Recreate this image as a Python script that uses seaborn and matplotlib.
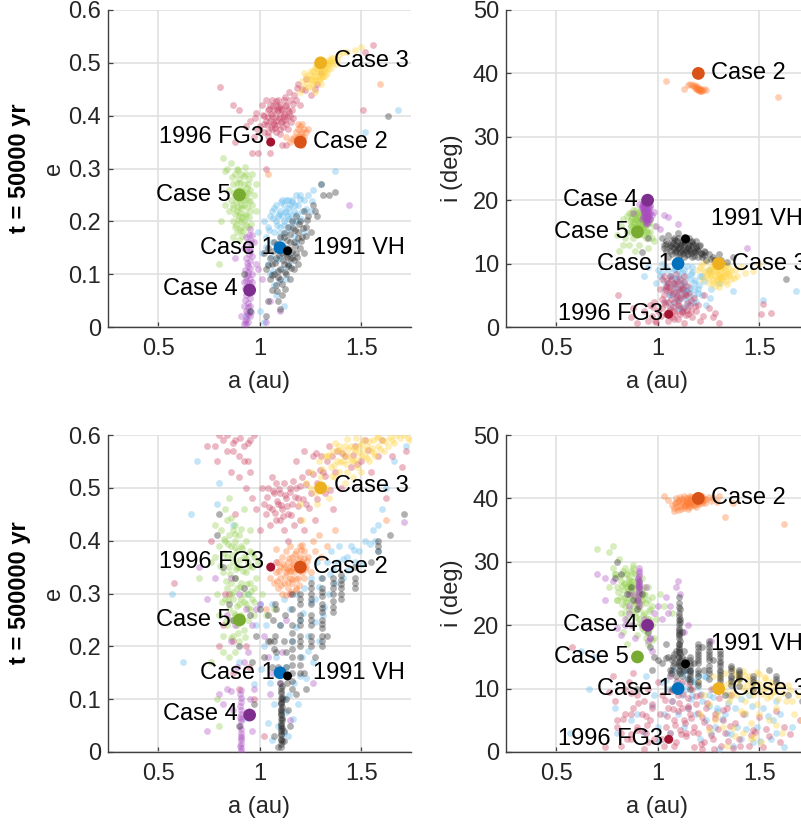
import numpy as np
import pandas as pd
import matplotlib
matplotlib.use("Agg")
import matplotlib.pyplot as plt
import seaborn as sns

# each cloud: (a [au], e, i [deg])
CASE1_T1 = [(1.02,.20,8.5),(1.03,.17,6),(1.04,.19,9.5),(1.05,.21,7),(1.06,.16,5),(1.06,.22,8),(1.07,.18,6.5),(1.08,.20,4),(1.08,.23,9),(1.09,.21,7.5),(1.09,.15,5.5),(1.10,.22,3),(1.10,.19,8),(1.11,.24,6),(1.11,.21,10),(1.12,.20,5),(1.12,.23,7),(1.13,.22,9),(1.13,.18,4.5),(1.14,.24,6.5),(1.14,.21,8),(1.15,.23,3.5),(1.15,.19,5.5),(1.16,.24,7.5),(1.17,.22,9.5),(1.18,.25,5),(1.18,.20,7),(1.19,.23,4),(1.20,.25,6),(1.21,.22,8),(1.22,.24,5),(1.24,.25,3.5),(1.26,.26,6),(1.30,.27,7),(.99,.18,7),(1.01,.14,8),(1.04,.12,4),(1.05,.10,9),(1.07,.08,5),(1.08,.06,7),(1.11,.11,3),(1.13,.09,6),(1.10,.13,9),(1.15,.14,4),(1.18,.16,6),(1.22,.18,8),(1.00,.03,9),(1.02,.01,10),(.93,.02,8.1),(.95,.03,9.5),(1.25,.22,9),(1.37,.295,5.7),(1.52,.37,4.2),(1.68,.41,5.7),(1.12,.04,6)]
CASE1_T1B = [(1.047,.183,6.4),(1.063,.207,3.3),(1.072,.226,7.7),(1.084,.194,9.2),(1.093,.214,5.1),(1.098,.178,6.8),(1.104,.237,4.2),(1.117,.193,8.6),(1.123,.217,2.7),(1.128,.241,7.1),(1.137,.204,5.6),(1.143,.226,9.7),(1.152,.212,4.8),(1.158,.237,6.2),(1.163,.198,8.3),(1.176,.231,3.9),(1.184,.214,7.4),(1.196,.243,5.3),(1.032,.152,7.2),(1.054,.132,5.2),(1.066,.106,8.1),(1.087,.127,6.1),(1.095,.088,4.4),(1.107,.166,7.8),(1.126,.146,3.1),(1.143,.117,5.7),(1.167,.173,8.7),(1.203,.205,6.6),(1.227,.223,7.3),(1.257,.238,4.6)]
CASE2_T1 = [(1.18,.37,37.9),(1.19,.36,37.7),(1.19,.375,38),(1.20,.38,37.6),(1.20,.365,37.4),(1.20,.355,37.8),(1.21,.37,37.3),(1.21,.385,37.5),(1.21,.36,37.6),(1.22,.375,37.2),(1.22,.36,37.4),(1.19,.385,37.5),(1.18,.355,38.1),(1.17,.36,38.2),(1.16,.355,38.3),(1.15,.35,38.2),(1.23,.37,37.5),(1.24,.375,37.4),(1.20,.35,37.5),(1.21,.345,37.3),(1.59,.46,36.3),(1.04,.29,38.8),(1.13,.36,37.6)]
CASE3_T1 = [(1.20,.445,9),(1.21,.465,9.5),(1.22,.455,7.5),(1.23,.475,9),(1.24,.47,8),(1.24,.455,10.3),(1.25,.485,8.5),(1.25,.47,7),(1.26,.475,9.5),(1.26,.46,8),(1.27,.49,7),(1.27,.475,9),(1.28,.465,8),(1.28,.485,6.5),(1.29,.47,7.5),(1.29,.495,9),(1.30,.48,8),(1.30,.49,10),(1.31,.475,7),(1.31,.50,8.5),(1.32,.49,9.5),(1.32,.485,7.5),(1.33,.50,8),(1.33,.48,9),(1.34,.495,6.8),(1.34,.505,8.5),(1.35,.49,8),(1.35,.51,9.3),(1.36,.50,7.5),(1.38,.505,9),(1.39,.515,8),(1.41,.52,9.5),(1.43,.52,8.5),(1.47,.525,8.8),(1.50,.53,10),(1.27,.445,10.5),(1.22,.48,10),(1.30,.46,6.3)]
CASE3_T1B = [(1.234,.462,8.6),(1.247,.479,7.7),(1.256,.468,9.1),(1.264,.484,8.3),(1.273,.466,7.4),(1.276,.496,9.7),(1.285,.476,8.8),(1.293,.483,7.2),(1.297,.469,8.4),(1.304,.497,9.2),(1.312,.484,7.9),(1.317,.493,8.1),(1.323,.476,9.4),(1.328,.502,8.7),(1.336,.488,7.3),(1.343,.499,9.8),(1.352,.503,8.3),(1.258,.455,8.9),(1.283,.491,9.6),(1.306,.473,7.6),(1.362,.509,8.9),(1.376,.498,7.8)]
CASE4_T1 = [(.92,.005,17),(.93,.015,18),(.93,.03,19.2),(.94,.01,18.5),(.94,.045,17.5),(.93,.06,18.2),(.95,.02,17),(.95,.055,18.8),(.92,.04,19),(.94,.075,16.5),(.95,.09,17.5),(.93,.095,18.7),(.96,.07,18),(.96,.10,17),(.92,.085,19.3),(.94,.115,16.8),(.95,.125,18.3),(.93,.13,17.3),(.96,.135,19),(.95,.15,18),(.94,.16,16.2),(.97,.16,17.6),(.96,.175,17),(.92,.15,18.8),(.93,.17,19),(.95,.185,16.5),(.94,.105,17.8),(.95,.04,19.4),(.98,.12,18.2),(.99,.11,16),(.91,.02,19.4),(.88,.13,18),(1.03,.01,17.7),(1.05,.05,17.4),(1.10,.03,16.3),(1.01,.09,15.5),(1.44,.23,12.4)]
CASE4_T1B = [(.925,.012,18.4),(.936,.026,17.7),(.944,.037,19.1),(.928,.052,18.9),(.937,.067,17.2),(.948,.083,18.6),(.926,.073,19.6),(.934,.088,18.1),(.943,.098,16.9),(.952,.112,18.2),(.927,.108,17.4),(.938,.122,19.2),(.946,.138,17.9),(.934,.147,18.5),(.955,.163,18.7),(.945,.174,17.1),(.932,.005,19.5),(.956,.028,17.6),(.948,.065,16.4),(.962,.085,19.2),(.942,.022,18.3),(.952,.144,17.3)]
CASE5_T1 = [(.82,.32,16),(.83,.295,17),(.84,.30,14),(.85,.26,15),(.85,.22,17.5),(.86,.31,18),(.86,.24,13),(.87,.27,16),(.87,.20,15),(.87,.17,17),(.88,.29,16.5),(.88,.25,18.5),(.88,.19,14),(.89,.30,17),(.89,.26,15.5),(.89,.22,16.5),(.89,.18,12),(.90,.28,17.8),(.90,.24,14.5),(.90,.21,16),(.90,.165,18),(.91,.29,15),(.91,.26,16.5),(.91,.225,17.5),(.91,.19,13),(.92,.27,18),(.92,.23,15.5),(.92,.20,16.8),(.93,.29,14.5),(.93,.25,17),(.93,.21,16),(.94,.27,15),(.94,.24,17.8),(.94,.19,14),(.95,.26,16.3),(.95,.22,12.5),(.96,.29,15),(.96,.23,17),(.97,.25,14),(.98,.27,16),(.98,.22,13.5),(.81,.20,12),(.83,.23,13),(.80,.12,14.5),(.87,.23,18),(.90,.26,15.8),(.91,.20,15),(.92,.25,16)]
CASE5_T1B = [(.864,.283,16.7),(.873,.253,17.4),(.876,.214,15.7),(.884,.237,16.2),(.887,.272,17.7),(.893,.203,15.3),(.896,.248,16.8),(.902,.183,17.2),(.905,.273,15.6),(.908,.231,18.1),(.913,.208,16.3),(.916,.257,14.7),(.918,.182,17.1),(.923,.286,16.2),(.926,.241,15.4),(.928,.214,17.6),(.933,.193,16.7),(.936,.264,18.2),(.938,.228,15.8),(.943,.253,16.9),(.946,.208,15.2),(.948,.281,17.3),(.953,.238,14.9),(.956,.195,16.4),(.868,.226,15.9),(.882,.193,17.9),(.893,.298,18.4),(.915,.172,15.1),(.925,.303,16.6),(.905,.215,15.5),(.895,.228,17.1),(.912,.243,16.4)]
VH_T1 = [(1.02,.14,14),(1.03,.11,13),(1.04,.15,12),(1.05,.09,14.5),(1.05,.13,11),(1.06,.07,13),(1.06,.12,12),(1.07,.16,13.8),(1.07,.10,11.5),(1.08,.13,14),(1.08,.08,12.5),(1.09,.05,12),(1.09,.15,13),(1.10,.11,11),(1.10,.17,12.5),(1.10,.09,14),(1.11,.06,13),(1.11,.14,11.8),(1.12,.12,13.5),(1.12,.17,12),(1.13,.10,11),(1.13,.15,13),(1.14,.19,12),(1.14,.12,14),(1.15,.09,12.5),(1.15,.16,11.5),(1.16,.13,13),(1.16,.20,12),(1.17,.11,11),(1.17,.16,13.5),(1.18,.14,12),(1.18,.21,11.2),(1.19,.18,12.8),(1.19,.12,13.5),(1.20,.15,11),(1.20,.20,12),(1.21,.17,13),(1.22,.22,11.5),(1.22,.14,11),(1.23,.19,12),(1.24,.21,10.5),(1.25,.18,11.5),(1.26,.23,10.8),(1.27,.22,11),(1.28,.21,10.5),(1.30,.27,11.5),(1.31,.25,10.5),(1.34,.25,10.2),(1.37,.255,11),(.92,.10,11.9),(.95,.03,14),(1.03,.02,12.5),(1.04,.05,13.5),(1.63,.40,7.5),(1.10,.035,14.8),(1.15,.13,12.5)]
VH_T1B = [(1.063,.143,12.7),(1.074,.122,13.3),(1.083,.157,11.8),(1.088,.106,12.2),(1.097,.136,13.6),(1.103,.154,12.6),(1.108,.082,11.4),(1.114,.126,12.9),(1.118,.178,13.2),(1.123,.104,11.7),(1.127,.138,14.2),(1.134,.164,12.3),(1.138,.116,13.7),(1.144,.147,11.3),(1.147,.176,12.9),(1.153,.112,14.1),(1.157,.142,12.2),(1.163,.187,13.4),(1.167,.127,11.6),(1.173,.153,12.8),(1.176,.183,13.1),(1.184,.133,11.9),(1.187,.168,12.4),(1.194,.195,12.1),(1.205,.163,12.7),(1.213,.188,11.7),(1.226,.172,11.4),(1.235,.203,11.8),(1.043,.117,13.1),(1.083,.069,13.8),(1.092,.094,12.9),(1.125,.071,12.1),(1.058,.098,12.6),(1.135,.133,13.4)]
FG3_T1 = [(.805,.454,5),(.87,.42,1.5),(.88,.35,3),(.90,.41,.7),(.93,.38,2.5),(.95,.39,1),(.96,.33,3.5),(.97,.36,1.8),(.98,.405,4),(.99,.33,.8),(1.00,.38,2.5),(1.01,.42,6),(1.02,.40,7.5),(1.02,.37,3),(1.03,.39,5),(1.03,.43,8),(1.04,.41,2),(1.04,.37,6.5),(1.05,.39,4),(1.05,.42,7),(1.06,.40,3),(1.06,.375,5.5),(1.06,.43,8),(1.07,.41,1.5),(1.07,.385,6),(1.08,.42,4),(1.08,.39,7),(1.08,.37,2.5),(1.09,.41,5),(1.09,.43,8.3),(1.10,.40,3.5),(1.10,.375,6),(1.10,.42,1.2),(1.11,.41,7.5),(1.11,.39,4.5),(1.12,.43,2.5),(1.12,.40,6),(1.13,.42,8),(1.13,.385,3),(1.14,.41,5),(1.15,.43,2),(1.15,.40,6.5),(1.16,.41,3.5),(1.17,.44,1.5),(1.18,.43,4.5),(1.19,.46,2.5),(1.20,.42,3.5),(1.21,.45,1),(1.23,.47,5),(1.25,.44,3),(1.27,.45,1.5),(1.28,.46,2.2),(1.30,.48,.6),(1.52,.52,3.6),(1.56,.534,2.2),(1.51,.41,2),(1.03,.30,4),(1.05,.33,1),(1.11,.345,2),(1.13,.345,.6)]
FG3_T1B = [(1.035,.382,3.7),(1.043,.397,5.8),(1.048,.412,7.2),(1.053,.378,2.6),(1.057,.403,6.3),(1.064,.388,4.4),(1.067,.418,7.6),(1.073,.397,3.2),(1.077,.376,5.3),(1.083,.408,6.8),(1.087,.383,2.2),(1.093,.396,4.7),(1.096,.416,7.3),(1.103,.388,5.6),(1.107,.412,3.3),(1.113,.378,6.7),(1.118,.403,2.4),(1.123,.392,4.9),(1.127,.418,7.1),(1.134,.397,5.2),(1.138,.374,1.9),(1.146,.407,3.8),(1.153,.388,5.4),(1.042,.362,6.2),(1.078,.427,1.3),(1.098,.366,4.1),(1.122,.436,6.1),(1.162,.423,4.2),(1.022,.385,4.4),(1.015,.402,1.7),(.985,.375,.9),(.975,.395,3.1),(1.142,.445,2.7),(1.185,.452,3.3),(1.222,.448,1.8),(1.166,.395,2.6)]

CASE1_T2 = [(.69,.55,15),(.62,.17,16),(.80,.51,3),(.79,.47,7),(.87,.43,5),(.90,.17,6),(.94,.30,12),(.98,.24,9),(1.00,.28,4),(1.02,.20,11),(1.03,.24,6),(1.05,.13,10),(1.06,.28,3),(1.07,.09,8),(1.08,.18,13),(1.09,.05,11),(1.10,.24,6),(1.12,.29,9),(1.12,.10,12.5),(1.13,.16,4),(1.14,.03,10),(1.15,.27,7),(1.16,.21,13),(1.17,.13,9),(1.18,.30,11),(1.19,.09,6),(1.20,.25,12),(1.21,.18,2),(1.22,.31,8),(1.23,.14,12),(1.24,.22,5),(1.25,.33,9),(1.26,.17,3),(1.27,.29,10),(1.28,.36,4),(1.29,.21,7),(1.30,.33,.5),(1.31,.26,10),(1.33,.36,6),(1.34,.30,3),(1.35,.38,9),(1.37,.32,1),(1.38,.36,7),(1.39,.39,4),(1.41,.33,2),(1.43,.37,6),(1.45,.39,9),(1.47,.36,1.5),(1.49,.38,4),(1.52,.40,7),(1.56,.42,2),(1.57,.40,5),(1.58,.38,8),(1.58,.43,3),(1.60,.46,6),(1.62,.50,.8),(1.66,.55,4),(.57,.30,3),(.66,.45,10),(1.72,.58,5)]
CASE1_T2B = [(1.04,.054,11.3),(1.062,.023,12.1),(1.092,.147,9.7),(1.118,.036,10.8),(1.127,.075,12.7),(1.146,.107,11.6),(1.163,.063,8.3),(1.178,.237,11.2),(1.196,.143,10.3),(1.215,.263,9.1),(1.238,.192,11.8),(1.254,.283,7.3),(1.272,.247,8.7),(1.293,.312,6.4),(1.318,.275,5.2),(1.345,.337,7.7),(1.362,.346,2.8),(1.408,.365,8.3),(1.437,.345,3.6),(1.465,.382,7.2),(1.505,.356,1.8),(1.543,.393,5.7),(.932,.064,3.2),(.972,.128,7.3),(1.008,.157,1.7)]
CASE2_T2 = [(1.07,.32,39),(1.08,.34,38.5),(1.09,.31,39.5),(1.09,.36,40),(1.10,.33,38.2),(1.10,.35,39.5),(1.11,.30,40.2),(1.11,.37,38.8),(1.12,.32,39.2),(1.12,.35,39.9),(1.13,.34,38.5),(1.13,.38,40.3),(1.14,.31,39),(1.14,.36,39.6),(1.15,.33,38.3),(1.15,.35,40),(1.15,.39,39.2),(1.16,.32,40.4),(1.16,.37,38.8),(1.17,.34,39.5),(1.17,.36,40.1),(1.18,.31,39),(1.18,.38,39.7),(1.19,.35,38.6),(1.19,.33,40.2),(1.20,.37,39.3),(1.20,.39,40.5),(1.21,.34,39.8),(1.21,.36,40),(1.22,.33,39.2),(1.22,.38,40.4),(1.23,.35,39.7),(1.24,.37,39.9),(1.25,.34,40.2),(1.26,.40,39.6),(1.27,.38,40),(1.29,.41,39.5),(1.30,.37,40.3),(1.33,.39,37),(1.37,.42,39.2),(1.03,.27,40.3),(1.62,.44,36),(1.08,.385,38),(1.05,.33,39.8)]
CASE2_T2B = [(1.083,.323,39.3),(1.097,.342,38.7),(1.104,.317,39.8),(1.116,.356,38.4),(1.124,.333,39.6),(1.135,.347,38.9),(1.138,.322,40.1),(1.146,.368,39.4),(1.152,.342,38.6),(1.158,.327,39.8),(1.164,.356,40.2),(1.172,.374,39.2),(1.177,.328,38.9),(1.184,.352,39.7),(1.188,.366,40.4),(1.193,.317,39.4),(1.198,.342,39.9),(1.204,.382,39.1),(1.208,.353,40.3),(1.217,.368,39.6),(1.224,.346,40.1),(1.234,.362,39.3),(1.128,.297,38.8),(1.152,.303,39.1),(1.178,.306,40),(1.206,.392,39.7),(1.165,.348,39.2),(1.142,.343,39.5)]
CASE3_T2 = [(1.20,.47,11),(1.23,.51,9),(1.25,.53,7.5),(1.27,.49,12),(1.29,.55,6),(1.30,.52,10),(1.32,.56,4),(1.33,.50,12.5),(1.35,.54,8),(1.36,.57,11),(1.37,.52,13),(1.38,.55,2.5),(1.39,.53,9),(1.40,.57,11.5),(1.41,.55,6.5),(1.42,.58,12.8),(1.43,.53,8),(1.44,.56,10.5),(1.45,.58,12),(1.46,.55,4.5),(1.47,.57,9),(1.48,.54,11),(1.49,.58,7.5),(1.50,.56,12.3),(1.51,.59,1.5),(1.52,.56,10),(1.53,.58,11.5),(1.54,.55,8.5),(1.55,.57,5),(1.56,.59,11),(1.57,.56,9.5),(1.58,.58,7),(1.60,.59,10.5),(1.61,.57,3),(1.63,.58,8),(1.65,.59,9.8),(1.67,.60,6),(1.69,.595,9),(1.71,.60,5),(1.73,.595,7.5),(1.74,.59,8.5),(1.28,.47,5),(1.34,.48,1),(1.42,.51,3),(1.46,.52,2),(1.50,.53,6),(1.33,.56,9.5),(1.39,.58,12),(1.25,.50,3.5),(1.21,.44,6)]
CASE3_T2B = [(1.343,.563,10.7),(1.367,.543,9.3),(1.384,.572,12.2),(1.396,.548,11.1),(1.413,.562,10.2),(1.425,.545,12.1),(1.437,.574,9.7),(1.448,.553,11.3),(1.463,.576,10.4),(1.475,.553,9.4),(1.487,.567,12.6),(1.497,.583,10.8),(1.513,.572,9.1),(1.526,.557,11.9),(1.538,.588,10.1),(1.552,.576,8.9),(1.564,.566,10.6),(1.578,.594,9.6),(1.593,.574,8.4),(1.615,.588,9.3),(1.642,.596,10.6),(1.662,.585,8.1),(1.305,.535,11.8),(1.356,.523,8.7),(1.373,.585,3.8),(1.432,.593,6.1),(1.476,.595,2.4),(1.584,.598,4.2)]
CASE4_T2 = [(.91,.002,25.9),(.91,.008,28.5),(.91,.015,26.4),(.91,.022,29),(.91,.03,27),(.91,.036,25.5),(.91,.044,27.8),(.905,.05,26.2),(.91,.058,28.2),(.905,.066,24.5),(.91,.072,26.8),(.91,.08,25),(.905,.088,27.5),(.91,.095,23.5),(.91,.102,26),(.905,.11,24),(.91,.118,25.2),(.91,.026,26.5),(.905,.012,27.3),(.91,.062,23),(.86,.115,22),(.84,.12,21),(.82,.09,18.5),(.87,.08,20),(.80,.11,19.5),(.74,.04,24),(.96,.04,18),(.95,.10,17.5),(.97,.12,16),(.98,.27,22),(.86,.21,23),(.88,.24,25),(.92,.17,20),(.94,.19,26),(.96,.24,18),(.84,.26,20),(.90,.30,24),(.78,.33,27),(.93,.27,21),(.89,.16,18),(.86,.33,25),(.70,.35,28),(.74,.29,27.5),(1.09,.15,26),(1.10,.13,27),(1.11,.19,25),(1.00,.28,23),(1.04,.18,24.5),(1.15,.06,20),(1.13,.25,19),(1.26,.13,17.5),(1.71,.435,18),(1.02,.22,21),(1.05,.11,22),(1.06,.15,23)]
CASE5_T2 = [(.78,.43,29),(.76,.36,31.5),(.79,.30,28),(.80,.39,24),(.80,.26,26),(.81,.42,30.5),(.82,.34,27),(.82,.22,24.5),(.82,.19,22),(.83,.40,28.5),(.83,.29,25.5),(.84,.37,26.5),(.84,.31,29),(.84,.24,23),(.85,.41,24),(.85,.35,28),(.85,.27,26),(.85,.18,21),(.86,.39,25.5),(.86,.32,27.5),(.86,.25,22.5),(.87,.42,27),(.87,.36,24),(.87,.29,28.5),(.87,.22,25.5),(.88,.40,26),(.88,.33,23),(.88,.26,27),(.88,.19,20),(.89,.38,25),(.89,.31,28),(.89,.24,22),(.90,.41,23.5),(.90,.35,26.5),(.90,.28,24),(.90,.21,18.5),(.91,.39,21),(.91,.32,25),(.91,.26,22.5),(.92,.37,27.5),(.92,.30,24),(.92,.23,19.5),(.93,.40,22),(.93,.34,25),(.93,.28,26),(.94,.36,20),(.94,.30,23.5),(.94,.25,18),(.95,.38,24),(.95,.32,21),(.95,.27,17),(.96,.35,22.5),(.96,.29,19.5),(.97,.37,24.5),(.97,.31,20),(.97,.26,23),(.98,.33,18),(.99,.36,21),(1.01,.30,25),(.83,.46,19),(.85,.48,17),(.79,.10,28),(.80,.05,24),(.76,.17,26),(.78,.37,32.5),(.70,.33,32),(.84,.44,22),(.88,.43,29.5),(.92,.46,24),(.95,.42,26),(1.03,.26,23),(1.07,.27,22),(.86,.30,26.5),(.89,.35,23.5),(.91,.29,27)]
CASE5_T2B = [(.806,.352,25.3),(.813,.283,27.8),(.826,.377,26.2),(.833,.324,24.3),(.836,.248,26.7),(.843,.393,28.1),(.846,.287,23.7),(.853,.336,25.4),(.857,.215,27.2),(.864,.373,24.7),(.868,.303,26.3),(.873,.264,22.1),(.876,.388,28.2),(.884,.346,24.6),(.887,.276,25.9),(.893,.226,21.3),(.897,.363,26.9),(.903,.312,22.8),(.906,.253,24.4),(.913,.386,20.3),(.917,.342,23.4),(.923,.283,25.7),(.927,.217,21.6),(.933,.367,19.3),(.937,.318,24.8),(.943,.272,21.2),(.948,.352,18.7),(.955,.304,22.3),(.963,.376,20.8),(.972,.283,17.6),(.822,.403,23.3),(.856,.443,26.2),(.878,.413,29.1),(.908,.423,25.6)]
VH_T2 = [(1.105,.015,24.5),(1.105,.025,22),(1.105,.035,23.5),(1.11,.045,21),(1.105,.055,19.5),(1.11,.065,22.5),(1.105,.075,18),(1.11,.085,20.5),(1.105,.095,17),(1.11,.105,15.5),(1.105,.115,16.5),(1.11,.125,13.5),(1.105,.04,19),(1.11,.02,17.5),(1.11,.06,14.5),(1.105,.08,21.5),(1.11,.10,12.5),(1.10,.13,15),(1.08,.19,14),(1.07,.21,13),(1.065,.25,12.5),(1.075,.28,15),(1.10,.24,14),(1.13,.10,16),(1.13,.16,13),(1.12,.21,15),(1.16,.12,15),(1.16,.15,14),(1.16,.18,13),(1.16,.21,12),(1.16,.24,11),(1.16,.27,10),(1.16,.30,12.5),(1.20,.15,17),(1.20,.18,16),(1.20,.20,15),(1.20,.22,14),(1.20,.24,13),(1.20,.26,12),(1.20,.28,11),(1.20,.30,10.5),(1.25,.20,17.5),(1.25,.22,16.5),(1.25,.24,15.5),(1.25,.26,14.5),(1.25,.28,13.5),(1.25,.30,12.5),(1.25,.32,11.5),(1.305,.20,16),(1.305,.22,15),(1.305,.235,14.3),(1.305,.25,13.6),(1.305,.265,13),(1.305,.28,12.2),(1.305,.295,11.6),(1.305,.31,10.6),(1.305,.33,9.8),(1.36,.265,13.5),(1.36,.285,12.8),(1.36,.30,12),(1.36,.32,11.2),(1.36,.33,10.5),(1.40,.29,13),(1.40,.31,12.3),(1.40,.325,11.5),(1.40,.335,10.4),(1.47,.31,12),(1.47,.33,11),(1.47,.35,10),(1.58,.38,12),(1.58,.40,11),(1.64,.41,9),(1.71,.45,8),(.82,.35,28),(.79,.41,27.5),(.80,.45,30),(.85,.28,25),(.87,.25,26),(.88,.33,24),(.90,.20,22.5),(.92,.31,25),(.95,.26,19),(.96,.17,16.5),(.98,.22,15),(1.00,.27,14.5),(1.02,.18,14),(1.04,.26,17),(1.05,.21,15),(1.06,.16,13),(1.07,.03,10),(1.14,.08,13),(1.15,.05,11.5),(1.09,.01,16),(1.12,.04,12),(1.12,.02,19),(1.23,.12,13),(1.22,.15,16.5),(1.18,.11,14),(1.27,.18,14.5),(1.33,.22,9),(1.55,.36,13),(.97,.09,13),(.90,.05,10)]
VH_T2B = [(1.107,.01,20.2),(1.107,.022,16.2),(1.107,.032,18.4),(1.107,.043,15),(1.107,.052,17.1),(1.107,.062,19.2),(1.107,.072,13.8),(1.107,.082,16),(1.107,.092,14.2),(1.107,.102,18.6),(1.107,.112,13),(1.107,.122,15.8),(1.107,.05,22.8),(1.107,.07,20.8),(1.107,.09,12.8),(1.16,.135,13.5),(1.16,.165,12.7),(1.16,.195,11.5),(1.16,.225,14.5),(1.20,.165,15.5),(1.20,.21,14.5),(1.20,.25,12.5),(1.20,.29,16.5),(1.25,.21,17),(1.25,.25,15),(1.25,.29,13),(1.25,.31,16),(1.305,.21,15.5),(1.305,.242,14),(1.305,.272,12.6),(1.305,.302,11.2),(1.36,.275,13.2),(1.36,.31,11.6),(1.40,.30,12.6),(1.40,.318,11.9),(1.47,.32,11.5),(1.58,.39,11.5),(1.07,.195,14.5),(1.075,.22,13.5),(1.08,.27,15.5),(1.135,.13,14.5),(1.13,.19,14),(1.125,.26,13.5),(1.09,.16,12),(1.04,.21,14.8)]
FG3_T2 = [(.78,.58,12),(.80,.60,5),(.79,.55,8),(.82,.59,3),(.84,.57,10),(.84,.60,6),(.86,.53,11),(.87,.57,2),(.88,.59,7),(.90,.56,9),(.90,.52,4),(.92,.58,6),(.93,.50,8),(.94,.55,3),(.95,.59,1.5),(.95,.53,10),(.96,.48,5),(.97,.60,7.5),(.98,.46,2),(1.00,.42,11),(1.01,.50,6),(1.02,.47,9),(1.03,.45,1),(1.04,.50,4),(1.05,.43,7),(1.06,.52,12),(1.06,.46,3),(1.07,.49,8),(1.08,.44,5),(1.08,.51,10),(1.09,.47,1.5),(1.10,.49,6.5),(1.10,.44,9),(1.11,.46,3.5),(1.12,.51,11),(1.12,.42,7),(1.13,.48,5),(1.14,.45,2.5),(1.15,.50,8.5),(1.16,.47,6),(1.17,.43,10),(1.18,.50,.8),(1.18,.55,4),(1.19,.48,7.5),(1.20,.44,3),(1.21,.52,9),(1.22,.57,5.5),(1.23,.47,1.5),(1.24,.53,7),(1.25,.49,4),(1.26,.56,10),(1.27,.44,2),(1.28,.51,6),(1.30,.56,8.5),(1.31,.53,1),(1.32,.49,5),(1.33,.55,3),(1.34,.58,7),(1.36,.46,9),(1.37,.53,.7),(1.38,.57,4.5),(1.40,.50,2),(1.42,.56,6),(1.45,.54,1),(1.47,.58,3.5),(1.50,.55,5.5),(1.52,.59,.8),(1.55,.53,2.5),(1.58,.56,6.5),(1.60,.59,1.5),(1.62,.48,4),(1.65,.56,2.8),(1.70,.54,5),(1.72,.57,1),(.58,.32,16.5),(.76,.40,9.5),(.80,.20,4),(.82,.24,1),(.85,.30,2),(.87,.15,6),(.90,.12,3.5),(.93,.20,.5),(.97,.10,7),(1.02,.03,2),(.74,.58,.8),(1.14,.40,3),(1.08,.36,1),(1.22,.42,.4),(1.15,.30,7),(.88,.45,12.5)]
FG3_T2B = [(1.034,.483,8.2),(1.047,.463,5.6),(1.063,.494,9.7),(1.074,.453,6.8),(1.083,.476,4.2),(1.094,.497,11.2),(1.104,.467,7.7),(1.116,.447,2.8),(1.124,.487,9.2),(1.136,.465,4.6),(1.148,.493,7.2),(1.156,.448,10.7),(1.163,.513,5.3),(1.174,.482,3.2),(1.186,.466,8.8),(1.198,.503,6.2),(1.212,.478,1.2),(1.228,.508,4.7),(1.243,.462,7.7),(1.262,.527,2.7),(1.283,.478,5.3),(1.297,.534,3.7),(1.323,.523,6.7),(1.346,.495,1.7),(.903,.595,7.8),(.923,.55,3.3),(.866,.585,9.3),(.942,.585,5.7),(.83,.30,5.2),(.867,.21,2.8),(.946,.16,4.3),(1.405,.565,.9),(1.458,.562,2.7),(1.535,.572,3.6),(1.275,.565,.5),(1.355,.56,4.1),(1.478,.545,3.1)]

CLOUD_TABLE = [
    ("Case 1", "#5CB8EC", CASE1_T1 + CASE1_T1B, CASE1_T2 + CASE1_T2B),
    ("1996 FG3", "#C93A5E", FG3_T1 + FG3_T1B, FG3_T2 + FG3_T2B),
    ("Case 2", "#FF7A30", CASE2_T1, CASE2_T2 + CASE2_T2B),
    ("Case 3", "#FFD23A", CASE3_T1 + CASE3_T1B, CASE3_T2 + CASE3_T2B),
    ("Case 5", "#92CF4A", CASE5_T1 + CASE5_T1B, CASE5_T2 + CASE5_T2B),
    ("Case 4", "#A94CC0", CASE4_T1 + CASE4_T1B, CASE4_T2),
    ("1991 VH", "#262626", VH_T1 + VH_T1B, VH_T2 + VH_T2B),
]
# nominal objects
OBJ_NAMES = ["Case 1", "Case 2", "Case 3", "Case 4", "Case 5", "1991 VH", "1996 FG3"]
OBJ_A = [1.10, 1.20, 1.30, 0.95, 0.90, 1.137, 1.054]
OBJ_E = [0.15, 0.35, 0.50, 0.07, 0.25, 0.144, 0.35]
OBJ_I = [10, 40, 10, 20, 15, 13.9, 2]
OBJ_COL = ["#0072BD", "#D95319", "#EDB120", "#7E2F8E", "#77AC30", "#000000", "#A2142F"]
ROW_TITLES = ["t = 50000 yr", "t = 500000 yr"]
E_TICKS = [0, .1, .2, .3, .4, .5, .6]
I_TICKS = [0, 10, 20, 30, 40, 50]
A_TICKS = [.5, 1, 1.5]

sns.set_theme(style="whitegrid")
plt.rcParams["font.family"] = ["Liberation Sans", "DejaVu Sans"]
W, H = 801, 824
fig = plt.figure(figsize=(W / 100, H / 100), dpi=100)
fig.patch.set_facecolor("white")

E_LAB = {"Case 1": (1.076, .15, "right"), "Case 2": (1.263, .35, "left"), "Case 3": (1.366, .503, "left"),
         "Case 4": (.894, .072, "right"), "Case 5": (.855, .25, "right"), "1991 VH": (1.263, .15, "left"),
         "1996 FG3": (1.02, .36, "right")}
I_LAB = {"Case 1": (1.07, 10, "right"), "Case 2": (1.263, 40, "left"), "Case 3": (1.366, 10, "left"),
         "Case 4": (.90, 20, "right"), "Case 5": (.855, 15, "right"), "1991 VH": (1.263, 17, "left"),
         "1996 FG3": (1.027, 2, "right")}
FS = 17


def panel(left, top, row, var):
    ax = fig.add_axes([left / W, 1 - (top + 317) / H, 303 / W, 317 / H])
    ax.set_facecolor("white")
    for name, colr, t1, t2 in CLOUD_TABLE:
        d = pd.DataFrame(t1 if row == 0 else t2, columns=["a", "e", "i"])
        sns.scatterplot(data=d, x="a", y=var, color=colr, s=24, alpha=.36,
                        linewidth=0, ax=ax, zorder=3, legend=False)
    objs = pd.DataFrame({"a": OBJ_A, "e": OBJ_E, "i": OBJ_I, "name": OBJ_NAMES})
    small = objs["name"].isin(["1991 VH", "1996 FG3"])
    sns.scatterplot(data=objs[~small], x="a", y=var, hue="name", palette=dict(zip(OBJ_NAMES, OBJ_COL)),
                    s=85, linewidth=0, ax=ax, zorder=5, legend=False)
    sns.scatterplot(data=objs[small], x="a", y=var, hue="name", palette=dict(zip(OBJ_NAMES, OBJ_COL)),
                    s=42, linewidth=0, ax=ax, zorder=5, legend=False)
    labs = E_LAB if var == "e" else I_LAB
    for nm, (x, y, ha) in labs.items():
        ax.text(x, y, nm, ha=ha, va="center", fontsize=FS, color="black", zorder=6)
    ax.set_xlim(.2525, 1.745)
    ax.set_xticks(A_TICKS)
    ax.set_xticklabels(["0.5", "1", "1.5"])
    if var == "e":
        ax.set_ylim(0, .6)
        ax.set_yticks(E_TICKS)
        ax.set_yticklabels(["0", "0.1", "0.2", "0.3", "0.4", "0.5", "0.6"])
        ax.set_ylabel("e", fontsize=FS, labelpad=2, color="#262626")
    else:
        ax.set_ylim(0, 50)
        ax.set_yticks(I_TICKS)
        ax.set_yticklabels([str(v) for v in I_TICKS])
        ax.set_ylabel("i (deg)", fontsize=FS, labelpad=7, color="#262626")
    ax.set_xlabel("a (au)", fontsize=FS, labelpad=8, color="#262626")
    ax.grid(True, color="#E0E0E0", linewidth=1.2, zorder=0)
    ax.set_axisbelow(True)
    ax.tick_params(axis="x", pad=8)
    ax.tick_params(axis="both", direction="in", length=3.5, width=.9, color="#404040",
                   labelsize=FS, labelcolor="#262626", bottom=True, left=True)
    ax.tick_params(axis="y", pad=5)
    for s in ("top", "right"):
        ax.spines[s].set_visible(False)
    for s in ("left", "bottom"):
        ax.spines[s].set_color("#404040")
        ax.spines[s].set_linewidth(1.0)
    return ax


for r, top in enumerate((10, 435)):
    panel(108, top, r, "e")
    panel(506, top, r, "i")
    fig.text(20 / W, 1 - (top + 158) / H, ROW_TITLES[r], rotation=90, ha="center", va="center",
             fontsize=FS, fontweight="bold", color="black")

fig.savefig("out.png", dpi=100, facecolor="white")
